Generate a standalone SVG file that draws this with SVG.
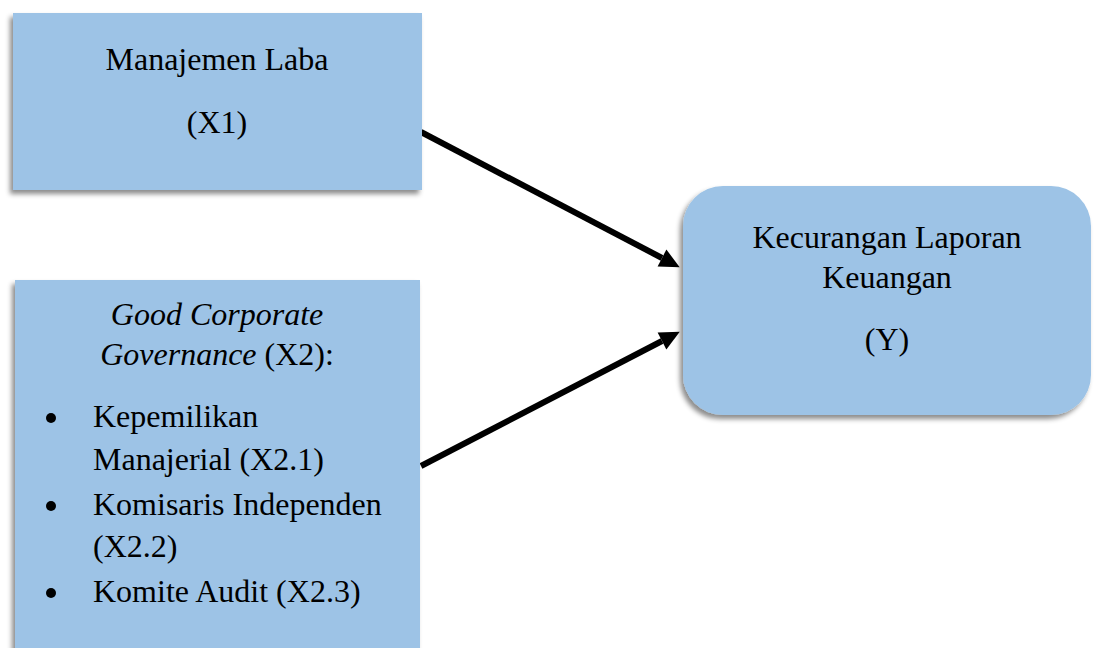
<svg xmlns="http://www.w3.org/2000/svg" width="1095" height="648" viewBox="0 0 1095 648">
<style>
.box{fill:#9DC3E6;filter:url(#sh);}
.t{font-family:"Liberation Serif","Times New Roman",serif;font-size:32px;fill:#000;}
.c{text-anchor:middle;}
.i{font-style:italic;}
.con{stroke:#000;stroke-width:6;fill:none;marker-end:url(#ah);}
</style>
<defs>
<filter id="sh" x="-10%" y="-10%" width="120%" height="120%">
<feDropShadow dx="-3" dy="4" stdDeviation="2.5" flood-color="#000" flood-opacity="0.45"/>
</filter>
<marker id="ah" markerUnits="userSpaceOnUse" markerWidth="22" markerHeight="22" viewBox="0 0 22 22" refX="0" refY="11" orient="auto" overflow="visible">
<path d="M0,1.5 L20,11 L0,20.5 Z" fill="#000"/>
</marker>
</defs>
<g id="connectors">
<line class="con" x1="421" y1="132" x2="662" y2="258"/>
<line class="con" x1="421" y1="466" x2="662" y2="341"/>
</g>
<g id="x1">
<rect class="box" x="13" y="13" width="409" height="177"/>
<text class="t c" x="217" y="70">Manajemen Laba</text>
<text class="t c" x="217" y="133">(X1)</text>
</g>
<g id="x2">
<rect class="box" x="15" y="280" width="405" height="380"/>
<text class="t c" x="217" y="325"><tspan class="i">Good Corporate</tspan></text>
<text class="t c" x="217" y="365"><tspan class="i">Governance</tspan> (X2):</text>
<circle cx="51" cy="418" r="5"/>
<circle cx="51" cy="506" r="5"/>
<circle cx="51" cy="593" r="5"/>
<text class="t" x="93" y="427">Kepemilikan</text>
<text class="t" x="93" y="470">Manajerial (X2.1)</text>
<text class="t" x="93" y="515">Komisaris Independen</text>
<text class="t" x="93" y="557">(X2.2)</text>
<text class="t" x="93" y="602">Komite Audit (X2.3)</text>
</g>
<g id="y">
<rect class="box" x="683" y="186" width="408" height="229" rx="40" ry="40"/>
<text class="t c" x="887" y="248">Kecurangan Laporan</text>
<text class="t c" x="887" y="288">Keuangan</text>
<text class="t c" x="887" y="350">(Y)</text>
</g>
</svg>
